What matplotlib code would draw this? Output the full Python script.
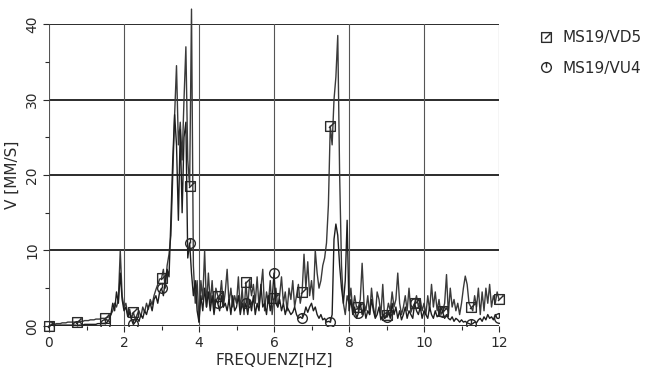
import numpy as np
import matplotlib
matplotlib.use('Agg')
import matplotlib.pyplot as plt
from matplotlib.path import Path
from matplotlib.lines import Line2D

plt.rcParams['font.family'] = ['DejaVu Sans']

# Frequency axis, 0.05 Hz resolution
freq = np.round(np.arange(0, 241) * 0.05, 2)

# MS19/VD5 (square markers), values in mm/s, one row per Hz
vd5 = [
    0.0, 0.1, 0.2, 0.2, 0.3, 0.3, 0.3, 0.4, 0.4, 0.4, 0.5, 0.5, 0.5, 0.5, 0.5, 0.5, 0.6, 0.6, 0.6, 0.7,
    0.7, 0.7, 0.8, 0.8, 0.8, 0.9, 0.9, 0.9, 1.0, 1.0, 1.0, 1.1, 1.2, 1.5, 2.0, 3.0, 2.5, 3.5, 10.0, 4.0,
    2.5, 3.0, 1.5, 2.2, 1.0, 1.8, 0.8, 1.5, 2.0, 1.2, 2.5, 1.8, 3.0, 2.2, 3.5, 2.8, 4.0, 4.8, 5.5, 6.2,
    6.3, 7.5, 5.0, 8.0, 9.5, 12.0, 20.0, 28.0, 34.5, 24.0, 27.0, 22.0, 30.0, 37.0, 22.0, 18.5, 42.0, 8.0, 3.0, 6.0,
    0.5, 6.0, 3.5, 10.0, 2.5, 7.0, 3.0, 6.0, 2.0, 5.0, 4.0, 3.5, 6.0, 2.5, 4.5, 7.5, 3.0, 5.0, 2.5, 4.0,
    3.0, 6.5, 2.0, 5.0, 1.5, 5.8, 2.5, 6.0, 4.0, 5.5, 3.0, 6.5, 2.5, 5.0, 7.5, 2.0, 4.5, 3.0, 6.0, 1.5,
    3.7, 5.0, 2.5, 4.0, 6.5, 3.0, 4.5, 2.0, 5.0, 3.5, 6.0, 2.5, 4.0, 5.5, 3.0, 4.5, 9.5, 5.0, 8.5, 4.0,
    6.0, 3.5, 10.0, 7.0, 5.0, 6.0, 8.0, 9.0, 11.0, 16.0, 26.5, 24.0, 30.0, 33.0, 38.5, 20.0, 8.0, 3.0, 1.5, 4.0,
    3.0, 5.0, 2.0, 4.0, 2.5, 2.5, 3.5, 8.3, 3.0, 2.0, 4.0, 1.5, 5.0, 2.5, 1.2, 4.5, 3.5, 1.5, 5.5, 1.0,
    1.5, 3.0, 2.0, 4.5, 2.5, 3.5, 7.0, 3.0, 1.5, 2.5, 4.0, 2.0, 5.0, 1.8, 2.5, 3.0, 4.0, 2.5, 3.5, 2.0,
    3.0, 1.5, 4.0, 2.0, 5.5, 2.5, 4.5, 2.0, 3.5, 1.5, 2.0, 3.0, 6.8, 1.5, 5.0, 2.5, 3.5, 2.0, 3.0, 1.5,
    3.0, 5.0, 6.6, 5.5, 3.0, 2.5, 2.0, 4.0, 2.5, 5.0, 1.5, 4.5, 2.0, 5.0, 3.0, 5.5, 2.5, 4.0, 3.0, 4.5,
    3.5,
]

# MS19/VU4 (circle markers)
vu4 = [
    0.0, 0.0, 0.1, 0.1, 0.1, 0.1, 0.1, 0.1, 0.1, 0.1, 0.1, 0.1, 0.1, 0.1, 0.1, 0.0, 0.1, 0.1, 0.1, 0.2,
    0.2, 0.2, 0.2, 0.2, 0.2, 0.2, 0.3, 0.3, 0.3, 0.3, 0.3, 0.5, 0.8, 1.5, 3.0, 2.0, 4.5, 3.0, 7.0, 3.5,
    2.0, 2.5, 1.2, 1.8, 0.8, 0.2, 0.5, 1.0, 0.6, 1.5, 1.0, 2.0, 1.5, 2.5, 3.0, 2.0, 3.5, 4.0, 3.0, 4.5,
    5.0, 4.0, 6.0, 7.5, 6.5, 14.0, 22.0, 28.0, 24.0, 14.0, 26.0, 15.0, 25.0, 27.0, 9.0, 11.0, 7.0, 4.0, 6.0, 2.0,
    0.5, 4.0, 2.0, 5.0, 2.5, 4.5, 2.0, 4.0, 1.5, 3.5, 3.0, 2.0, 4.0, 2.5, 3.0, 2.0, 3.5, 1.5, 4.0, 2.0,
    2.5, 4.0, 1.5, 3.0, 2.0, 3.0, 1.5, 3.5, 2.0, 4.0, 1.5, 3.0, 2.0, 5.5, 2.5, 3.0, 1.5, 4.0, 2.0, 3.5,
    7.0, 3.0, 2.5, 3.5, 2.0, 3.0, 1.5, 2.5, 2.0, 1.5, 1.8, 2.5, 1.5, 1.0, 1.2, 1.0, 1.5, 2.5, 1.8, 2.5,
    3.0, 2.0, 2.5, 1.5, 1.0, 1.5, 0.8, 1.0, 0.5, 0.6, 0.5, 1.5, 11.5, 13.5, 12.0, 8.0, 5.0, 3.0, 6.0, 14.0,
    2.0, 3.5, 1.5, 2.5, 1.0, 1.7, 3.0, 1.5, 2.5, 1.0, 2.0, 1.5, 3.5, 2.0, 1.0, 1.5, 2.5, 0.8, 1.5, 1.0,
    1.2, 2.0, 1.0, 3.0, 1.5, 2.5, 1.0, 2.0, 0.8, 1.5, 2.5, 1.0, 2.0, 1.5, 1.0, 3.0, 2.0, 1.5, 2.5, 1.0,
    2.0, 1.5, 1.0, 2.5, 1.5, 1.0, 2.0, 1.2, 1.5, 2.5, 1.8, 1.0, 1.5, 1.0, 0.8, 1.2, 0.6, 1.0, 0.8, 0.5,
    0.8, 0.5, 0.6, 0.4, 0.3, 0.2, 0.3, 0.5, 0.4, 0.8, 1.0, 0.6, 1.2, 0.8, 1.5, 1.0, 1.2, 0.8, 1.5, 1.0,
    1.0,
]

series_names = ['MS19/VD5', 'MS19/VU4']
x_ticks = [0, 2, 4, 6, 8, 10, 12]
y_ticks = [0, 10, 20, 30, 40]
y_tick_labels = ['00', '10', '20', '30', '40']

# plotter-style markers: square with a slash, circle with a tick
sq_marker = Path(
    [(-1, -1), (1, -1), (1, 1), (-1, 1), (-1, -1), (-0.3, -0.3), (0.8, 0.8)],
    [Path.MOVETO, Path.LINETO, Path.LINETO, Path.LINETO, Path.CLOSEPOLY, Path.MOVETO, Path.LINETO],
)
circ = Path.unit_circle()
ci_marker = Path(
    np.vstack([circ.vertices, [[0, 1], [0, 0]]]),
    np.concatenate([circ.codes, [Path.MOVETO, Path.LINETO]]),
)

fig = plt.figure(figsize=(6.49, 3.72), dpi=100)
ax = fig.add_axes([0.0755, 0.124, 0.6934, 0.811])

ink = '#2a2a2a'

ax.plot(freq, vd5, color='#3a3a3a', lw=1.0, marker=sq_marker, markevery=15,
        ms=7, mfc='none', mec=ink, mew=1.0, clip_on=False, zorder=3)
ax.plot(freq, vu4, color='#1e1e1e', lw=1.0, marker=ci_marker, markevery=15,
        ms=7, mfc='none', mec=ink, mew=1.0, zorder=3)

ax.set_xlim(0, 12)
ax.set_ylim(0, 40)

for yv in y_ticks:
    ax.axhline(yv, color='#1a1a1a', lw=1.3, zorder=1)
for xv in x_ticks:
    ax.axvline(xv, color='#555555', lw=0.8, zorder=1)

for side in ['top', 'right', 'bottom', 'left']:
    ax.spines[side].set_visible(False)

ax.set_xticks(x_ticks)
ax.set_xticks([1, 3, 5, 7, 9, 11], minor=True)
ax.set_yticks(y_ticks)
ax.set_yticks([5, 15, 25, 35], minor=True)
ax.set_yticklabels(y_tick_labels, rotation=90, va='center')
ax.tick_params(axis='both', which='major', length=4, width=0.8, color=ink, labelsize=10, labelcolor=ink)
ax.tick_params(axis='both', which='minor', length=3, width=0.8, color=ink)
ax.tick_params(axis='x', pad=3)
ax.tick_params(axis='y', pad=3)

ax.set_xlabel('FREQUENZ[HZ]', fontsize=11, color=ink, labelpad=2)
ax.set_ylabel('V [MM/S]', fontsize=11, color=ink, labelpad=4)

handles = [
    Line2D([], [], ls='none', marker=sq_marker, ms=7, mfc='none', mec=ink, mew=1.0),
    Line2D([], [], ls='none', marker=ci_marker, ms=7, mfc='none', mec=ink, mew=1.0),
]
fig.legend(handles, series_names, loc='upper left', bbox_to_anchor=(0.808, 0.955),
           frameon=False, handlelength=1.0, handletextpad=0.6, labelspacing=1.0,
           fontsize=11, labelcolor=ink)

fig.savefig('out.png', dpi=100)
